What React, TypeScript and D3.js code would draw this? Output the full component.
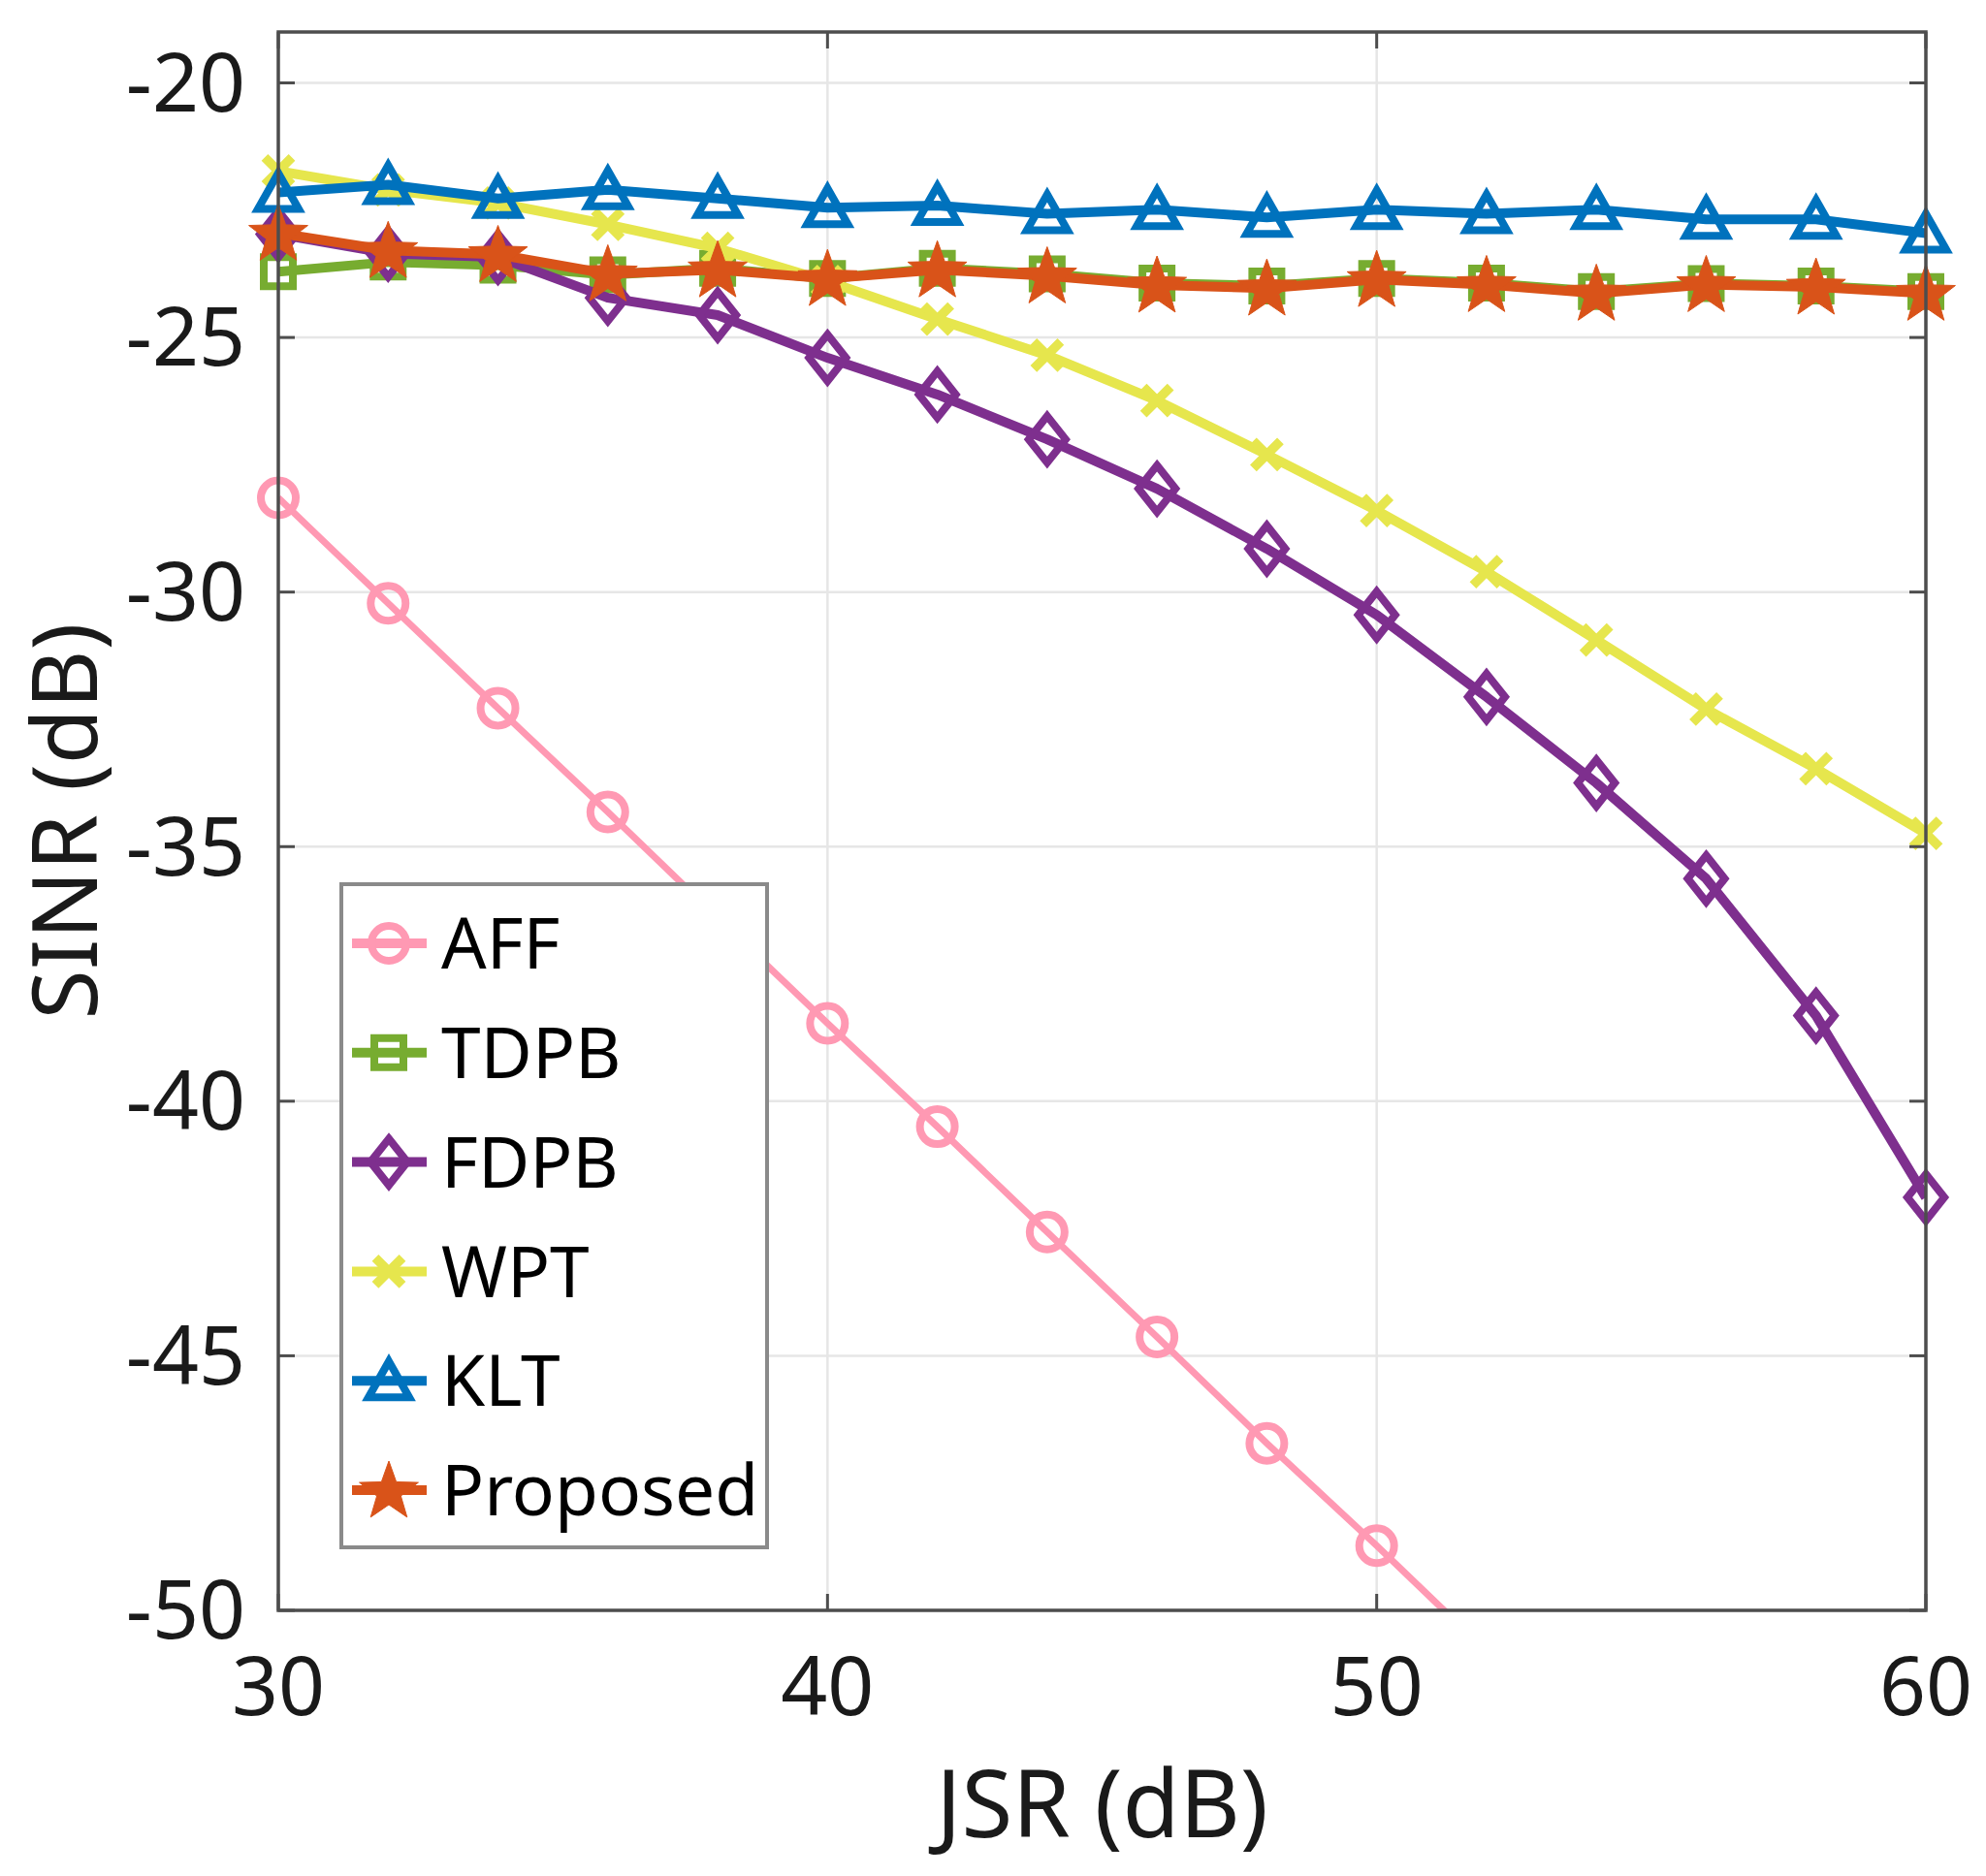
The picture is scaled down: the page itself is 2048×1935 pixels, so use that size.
import React, { useEffect, useRef } from 'react';
import * as d3 from 'd3';

// JSR values (dB)
const jsr = [30, 32, 34, 36, 38, 40, 42, 44, 46, 48, 50, 52, 54, 56, 58, 60];

// SINR (dB)
const aff = [-28.15, -30.22, -32.28, -34.32, -36.4, -38.47, -40.5, -42.57, -44.63, -46.72, -48.73, -50.8, -52.9, -54.9, -57.0, -59.0];
const tdpb = [-23.71, -23.52, -23.58, -23.77, -23.64, -23.84, -23.64, -23.75, -23.93, -23.99, -23.84, -23.93, -24.1, -23.94, -23.99, -24.1];
const fdpb = [-22.97, -23.35, -23.42, -24.22, -24.56, -25.4, -26.12, -27.0, -27.97, -29.15, -30.45, -32.06, -33.75, -35.63, -38.32, -41.89];
const wpt = [-21.73, -22.1, -22.36, -22.78, -23.25, -23.9, -24.64, -25.35, -26.24, -27.3, -28.4, -29.6, -30.94, -32.3, -33.47, -34.74];
const klt = [-22.15, -22.0, -22.27, -22.1, -22.27, -22.45, -22.41, -22.57, -22.49, -22.64, -22.49, -22.57, -22.49, -22.68, -22.68, -22.95];
const proposed = [-22.95, -23.29, -23.37, -23.75, -23.67, -23.84, -23.67, -23.79, -23.97, -24.03, -23.86, -23.96, -24.13, -23.96, -24.01, -24.13];

const xTicks = [30, 40, 50, 60];
const yTicks = [-50, -45, -40, -35, -30, -25, -20];

type Marker = 'circle' | 'square' | 'diamond' | 'x' | 'triangle' | 'star';

interface Series {
  name: string;
  values: number[];
  color: string;
  marker: Marker;
  lineWidth: number;
}

const series: Series[] = [
  { name: 'AFF', values: aff, color: '#ff99b3', marker: 'circle', lineWidth: 7 },
  { name: 'TDPB', values: tdpb, color: '#77ac30', marker: 'square', lineWidth: 10 },
  { name: 'FDPB', values: fdpb, color: '#7e2f8e', marker: 'diamond', lineWidth: 10 },
  { name: 'WPT', values: wpt, color: '#e6e64d', marker: 'x', lineWidth: 10 },
  { name: 'KLT', values: klt, color: '#0072bd', marker: 'triangle', lineWidth: 10 },
  { name: 'Proposed', values: proposed, color: '#d95319', marker: 'star', lineWidth: 10 }
];

const W = 2048;
const H = 1935;
const FONT = '"Noto Sans", "Open Sans", sans-serif';

function markerPath(m: Marker): string {
  switch (m) {
    case 'circle': {
      const r = 18;
      return `M${-r},0A${r},${r} 0 1,0 ${r},0A${r},${r} 0 1,0 ${-r},0Z`;
    }
    case 'square':
      return 'M-15,-15L15,-15L15,15L-15,15Z';
    case 'diamond':
      return 'M0,-24L19,0L0,24L-19,0Z';
    case 'x':
      return 'M-14,-14L14,14M14,-14L-14,14';
    case 'triangle':
      return 'M0,-20L21,17L-21,17Z';
    case 'star': {
      const pts: string[] = [];
      const R = 32;
      const r = 13;
      for (let i = 0; i < 10; i++) {
        const a = -Math.PI / 2 + (i * Math.PI) / 5;
        const rad = i % 2 === 0 ? R : r;
        pts.push(`${(rad * Math.cos(a)).toFixed(2)},${(rad * Math.sin(a) + 2).toFixed(2)}`);
      }
      return 'M' + pts.join('L') + 'Z';
    }
  }
}

function drawMarker(
  g: d3.Selection<SVGGElement, unknown, null, undefined>,
  s: Series,
  x: number,
  y: number
) {
  const filled = s.marker === 'star';
  g.append('path')
    .attr('d', markerPath(s.marker))
    .attr('transform', `translate(${x},${y})`)
    .attr('fill', filled ? s.color : 'none')
    .attr('stroke', s.color)
    .attr('stroke-width', filled ? 1 : s.marker === 'x' ? 9.5 : 8)
    .attr('stroke-linejoin', 'miter');
}

export default function App() {
  const svgRef = useRef<SVGSVGElement>(null);

  useEffect(() => {
    if (!svgRef.current) return;
    const svg = d3.select(svgRef.current);
    svg.selectAll('*').remove();

    const left = 287, right = 1986, top = 33, bottom = 1661;

    const xScale = d3.scaleLinear().domain([30, 60]).range([left, right]);
    const yScale = d3.scaleLinear().domain([-50, -19]).range([bottom, top]);

    svg.append('rect').attr('width', W).attr('height', H).attr('fill', '#ffffff');

    svg.append('defs')
      .append('clipPath')
      .attr('id', 'plot-clip')
      .append('rect')
      .attr('x', left)
      .attr('y', top)
      .attr('width', right - left)
      .attr('height', bottom - top);

    // grid
    const grid = svg.append('g');
    xTicks.forEach(t => {
      grid.append('line')
        .attr('x1', xScale(t)).attr('x2', xScale(t))
        .attr('y1', top).attr('y2', bottom)
        .attr('stroke', '#e6e6e6').attr('stroke-width', 2.5);
    });
    yTicks.forEach(t => {
      grid.append('line')
        .attr('x1', left).attr('x2', right)
        .attr('y1', yScale(t)).attr('y2', yScale(t))
        .attr('stroke', '#e6e6e6').attr('stroke-width', 2.5);
    });

    // series
    const line = d3.line<number>()
      .x((_, i) => xScale(jsr[i]))
      .y(d => yScale(d));

    series.forEach(s => {
      const g = svg.append('g');
      g.append('path')
        .attr('d', line(s.values) || '')
        .attr('fill', 'none')
        .attr('stroke', s.color)
        .attr('stroke-width', s.lineWidth)
        .attr('stroke-linejoin', 'round')
        .attr('clip-path', 'url(#plot-clip)');
      s.values.forEach((v, i) => {
        if (v < -50 || v > -19) return;
        drawMarker(g, s, xScale(jsr[i]), yScale(v));
      });
    });

    // axes box and ticks
    const axisColor = '#4d4d4d';
    const axes = svg.append('g');
    axes.append('rect')
      .attr('x', left).attr('y', top)
      .attr('width', right - left).attr('height', bottom - top)
      .attr('fill', 'none').attr('stroke', axisColor).attr('stroke-width', 3.5);

    const tl = 17;
    xTicks.forEach(t => {
      const x = xScale(t);
      axes.append('line').attr('x1', x).attr('x2', x).attr('y1', bottom).attr('y2', bottom - tl)
        .attr('stroke', axisColor).attr('stroke-width', 3);
      axes.append('line').attr('x1', x).attr('x2', x).attr('y1', top).attr('y2', top + tl)
        .attr('stroke', axisColor).attr('stroke-width', 3);
      axes.append('text')
        .attr('x', x).attr('y', 1740).attr('dy', '0.35em')
        .attr('text-anchor', 'middle')
        .style('font-family', FONT).style('font-size', '84px')
        .attr('fill', '#1a1a1a')
        .text(String(t));
    });
    yTicks.forEach(t => {
      const y = yScale(t);
      axes.append('line').attr('x1', left).attr('x2', left + tl).attr('y1', y).attr('y2', y)
        .attr('stroke', axisColor).attr('stroke-width', 3);
      axes.append('line').attr('x1', right).attr('x2', right - tl).attr('y1', y).attr('y2', y)
        .attr('stroke', axisColor).attr('stroke-width', 3);
      axes.append('text')
        .attr('x', 253).attr('y', y).attr('dy', '0.35em')
        .attr('text-anchor', 'end')
        .style('font-family', FONT).style('font-size', '84px')
        .attr('fill', '#1a1a1a')
        .text(String(t));
    });

    // axis labels
    svg.append('text')
      .attr('x', (left + right) / 2).attr('y', 1895)
      .attr('text-anchor', 'middle')
      .style('font-family', FONT).style('font-size', '96px')
      .attr('fill', '#1a1a1a')
      .text('JSR (dB)');

    svg.append('text')
      .attr('transform', `translate(100,${(top + bottom) / 2}) rotate(-90)`)
      .attr('text-anchor', 'middle')
      .style('font-family', FONT).style('font-size', '93px')
      .attr('fill', '#1a1a1a')
      .text('SINR (dB)');

    // legend
    const legend = svg.append('g');
    legend.append('rect')
      .attr('x', 352).attr('y', 912)
      .attr('width', 439).attr('height', 684)
      .attr('fill', '#ffffff')
      .attr('stroke', '#8a8a8a').attr('stroke-width', 4);

    series.forEach((s, i) => {
      const cy = 973 + i * 112.8;
      const item = legend.append('g');
      item.append('line')
        .attr('x1', 363).attr('x2', 440)
        .attr('y1', cy).attr('y2', cy)
        .attr('stroke', s.color).attr('stroke-width', 10);
      drawMarker(item, s, 401, cy);
      item.append('text')
        .attr('x', 455).attr('y', cy).attr('dy', '0.36em')
        .style('font-family', FONT).style('font-size', '73px')
        .attr('fill', '#000000')
        .text(s.name);
    });
  }, []);

  return (
    <svg
      ref={svgRef}
      width={W}
      height={H}
      style={{ position: 'absolute', left: 0, top: 0, display: 'block' }}
    />
  );
}
